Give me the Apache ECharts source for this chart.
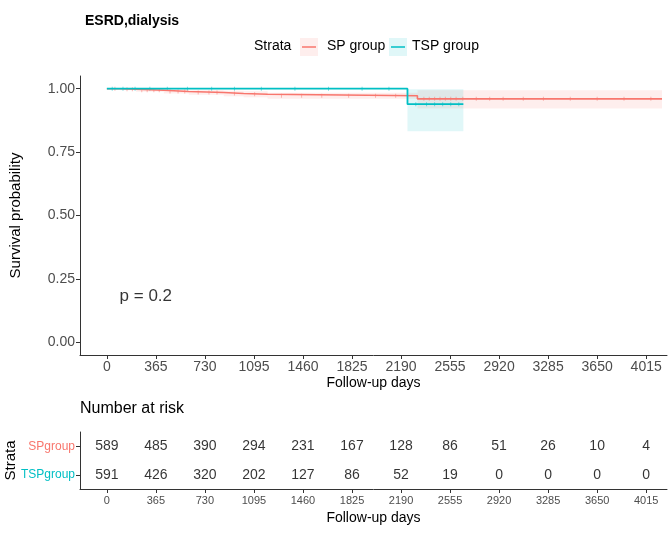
<!DOCTYPE html>
<html>
<head>
<meta charset="utf-8">
<script src="https://cdn.jsdelivr.net/npm/echarts@6/dist/echarts.min.js"></script>
<style>
html,body{margin:0;padding:0;background:#fff;}
#c{width:669px;height:533px;}
</style>
</head>
<body>
<div id="c"></div>
<script>
// ---- data ----
var xTicks = [0, 365, 730, 1095, 1460, 1825, 2190, 2555, 2920, 3285, 3650, 4015];
var yTicks = [0, 0.25, 0.5, 0.75, 1];
var groups = ['SPgroup', 'TSPgroup'];
var legendNames = ['SP group', 'TSP group'];

var spTimes = [0, 100, 216, 424, 610, 870, 1018, 1197, 2312, 4133];
var spSurv  = [1.0, 0.998, 0.994, 0.989, 0.985, 0.981, 0.978, 0.972, 0.960, 0.960];
var spLower = [1.0, 0.994, 0.988, 0.981, 0.976, 0.970, 0.966, 0.960, 0.922, 0.922];
var spUpper = [1.0, 1.0, 1.0, 0.997, 0.994, 0.992, 0.990, 0.984, 0.994, 0.994];

var tspTimes = [0, 2238, 2654];
var tspSurv  = [1.0, 0.939, 0.939];
var tspLower = [1.0, 0.832, 0.832];
var tspUpper = [1.0, 0.998, 0.998];

var spCensor = [60, 150, 190, 260, 300, 350, 390, 470, 530, 580, 680, 760, 820, 950, 1100, 1300, 1450, 1600, 1800, 2000, 2150, 2360, 2400, 2440, 2480, 2520, 2560, 2600, 2650, 2750, 2850, 2950, 3100, 3250, 3450, 3650, 3850, 4050];
var tspCensor = [40, 120, 210, 320, 450, 600, 780, 950, 1150, 1400, 1650, 1900, 2100, 2300, 2380, 2440, 2500, 2560, 2620];

var spRisk  = [589, 485, 390, 294, 231, 167, 128, 86, 51, 26, 10, 4];
var tspRisk = [591, 426, 320, 202, 127, 86, 52, 19, 0, 0, 0, 0];

var pText = 'p = 0.2';
var pPos = [290, 0.18];

// ---- helpers ----
var RED = '#F8766D', TEAL = '#00BFC4';
var FONT = '"Liberation Sans", Arial, sans-serif';
function zip(a, b) { return a.map(function (v, i) { return [v, b[i]]; }); }
function bandData(times, lo, hi) {
  var out = [];
  for (var i = 0; i < times.length - 1; i++) out.push([times[i], times[i + 1], lo[i], hi[i]]);
  return out;
}
function survAt(times, surv, t) {
  var s = surv[0];
  for (var i = 0; i < times.length; i++) { if (times[i] <= t) s = surv[i]; }
  return s;
}
function censorData(c, times, surv) { return c.map(function (t) { return [t, survAt(times, surv, t)]; }); }
function bandRender(fill) {
  return function (params, api) {
    var p1 = api.coord([api.value(0), api.value(3)]);
    var p2 = api.coord([api.value(1), api.value(2)]);
    return {type: 'rect', shape: {x: p1[0], y: p1[1], width: p2[0] - p1[0], height: p2[1] - p1[1]},
      style: {fill: fill}};
  };
}

var XMIN = -200, XMAX = 4170;

var chart = echarts.init(document.getElementById('c'), null, {renderer: 'canvas'});
var axisLineStyle = {color: '#333', width: 1};
var plain = function (v) { return String(v); };

var option = {
  animation: false,
  textStyle: {fontFamily: FONT},
  title: {
    text: 'ESRD,dialysis', left: 80, top: 9,
    textStyle: {fontFamily: FONT, fontSize: 14, fontWeight: 'bold', color: '#000'}
  },
  grid: [
    {left: 80, top: 76, right: 2, height: 279, containLabel: false, outerBoundsMode: 'none'},
    {left: 80, top: 432, right: 2, height: 57, containLabel: false, outerBoundsMode: 'none'}
  ],
  xAxis: [
    {
      type: 'value', gridIndex: 0, min: XMIN, max: XMAX,
      name: 'Follow-up days', nameLocation: 'middle', nameGap: 21, nameMoveOverlap: false,
      nameTextStyle: {fontFamily: FONT, fontSize: 14, color: '#000'},
      axisLine: {show: true, onZero: false, lineStyle: axisLineStyle},
      axisTick: {show: true, length: 4, lineStyle: axisLineStyle, customValues: xTicks},
      axisLabel: {fontFamily: FONT, fontSize: 14, color: '#4D4D4D', margin: 5, customValues: xTicks, formatter: plain},
      splitLine: {show: false}
    },
    {
      type: 'value', gridIndex: 1, min: XMIN, max: XMAX,
      name: 'Follow-up days', nameLocation: 'middle', nameGap: 22, nameMoveOverlap: false,
      nameTextStyle: {fontFamily: FONT, fontSize: 14, color: '#000'},
      axisLine: {show: true, onZero: false, lineStyle: axisLineStyle},
      axisTick: {show: true, length: 4, lineStyle: axisLineStyle, customValues: xTicks},
      axisLabel: {fontFamily: FONT, fontSize: 11, color: '#4D4D4D', margin: 6, customValues: xTicks, formatter: plain},
      splitLine: {show: false}
    }
  ],
  yAxis: [
    {
      type: 'value', gridIndex: 0, min: -0.05, max: 1.05,
      name: 'Survival probability', nameLocation: 'middle', nameGap: 57, nameMoveOverlap: false,
      nameTextStyle: {fontFamily: FONT, fontSize: 15, color: '#000'},
      axisLine: {show: true, onZero: false, lineStyle: axisLineStyle},
      axisTick: {show: true, length: 4, lineStyle: axisLineStyle, customValues: yTicks},
      axisLabel: {fontFamily: FONT, fontSize: 14, color: '#4D4D4D', margin: 5, customValues: yTicks,
        formatter: function (v) { return v.toFixed(2); }},
      splitLine: {show: false}
    },
    {
      type: 'category', gridIndex: 1, data: groups, inverse: true,
      name: 'Strata', nameLocation: 'middle', nameGap: 62, nameMoveOverlap: false,
      nameTextStyle: {fontFamily: FONT, fontSize: 15, color: '#000'},
      axisLine: {show: true, onZero: false, lineStyle: axisLineStyle},
      axisTick: {show: true, length: 4, alignWithLabel: true, lineStyle: axisLineStyle},
      axisLabel: {fontFamily: FONT, fontSize: 12, margin: 5,
        color: function (v) { return v === 'SPgroup' ? RED : TEAL; }},
      splitLine: {show: false}
    }
  ],
  graphic: [
    {type: 'text', left: 80, top: 401, style: {text: 'Number at risk', font: '16px ' + FONT, fill: '#000'}},
    {type: 'text', left: 254, top: 39, style: {text: 'Strata', font: '14px ' + FONT, fill: '#000'}},
    {type: 'rect', shape: {x: 300, y: 38, width: 18, height: 18}, style: {fill: 'rgba(248,118,109,0.12)'}},
    {type: 'line', shape: {x1: 302, y1: 47, x2: 316, y2: 47}, style: {stroke: RED, lineWidth: 1.5}},
    {type: 'text', left: 327, top: 39, style: {text: legendNames[0], font: '14px ' + FONT, fill: '#000'}},
    {type: 'rect', shape: {x: 389, y: 38, width: 18, height: 18}, style: {fill: 'rgba(0,191,196,0.12)'}},
    {type: 'line', shape: {x1: 391, y1: 47, x2: 405, y2: 47}, style: {stroke: TEAL, lineWidth: 1.5}},
    {type: 'text', left: 412, top: 39, style: {text: legendNames[1], font: '14px ' + FONT, fill: '#000'}}
  ],
  series: [
    {type: 'custom', name: 'sp_band', xAxisIndex: 0, yAxisIndex: 0, coordinateSystem: 'cartesian2d',
      data: bandData(spTimes, spLower, spUpper), encode: {x: [0, 1], y: [2, 3]},
      renderItem: bandRender('rgba(248,118,109,0.12)'), silent: true, z: 1},
    {type: 'custom', name: 'tsp_band', xAxisIndex: 0, yAxisIndex: 0, coordinateSystem: 'cartesian2d',
      data: bandData(tspTimes, tspLower, tspUpper), encode: {x: [0, 1], y: [2, 3]},
      renderItem: bandRender('rgba(0,191,196,0.12)'), silent: true, z: 1},
    {type: 'line', name: legendNames[0], xAxisIndex: 0, yAxisIndex: 0, step: 'end',
      data: zip(spTimes, spSurv), symbol: 'none', lineStyle: {color: RED, width: 1.6}, z: 5},
    {type: 'line', name: legendNames[1], xAxisIndex: 0, yAxisIndex: 0, step: 'end',
      data: zip(tspTimes, tspSurv), symbol: 'none', lineStyle: {color: TEAL, width: 1.8}, z: 6},
    {type: 'scatter', name: 'sp_censor', xAxisIndex: 0, yAxisIndex: 0,
      data: censorData(spCensor, spTimes, spSurv), symbol: 'rect', symbolSize: [1, 4],
      itemStyle: {color: RED, opacity: 0.5}, silent: true, z: 4},
    {type: 'scatter', name: 'tsp_censor', xAxisIndex: 0, yAxisIndex: 0,
      data: censorData(tspCensor, tspTimes, tspSurv), symbol: 'rect', symbolSize: [1, 4],
      itemStyle: {color: TEAL, opacity: 0.5}, silent: true, z: 4},
    {type: 'scatter', name: 'pval', xAxisIndex: 0, yAxisIndex: 0, data: [pPos], symbolSize: 0,
      label: {show: true, position: 'inside', formatter: pText, fontFamily: FONT, fontSize: 17, color: '#000'}, silent: true},
    {type: 'scatter', name: 'risk_sp', xAxisIndex: 1, yAxisIndex: 1,
      data: xTicks.map(function (t, i) { return [t, groups[0], spRisk[i]]; }), symbolSize: 0,
      label: {show: true, position: 'inside', formatter: function (p) { return String(p.value[2]); },
        fontFamily: FONT, fontSize: 14, color: '#000'}, silent: true},
    {type: 'scatter', name: 'risk_tsp', xAxisIndex: 1, yAxisIndex: 1,
      data: xTicks.map(function (t, i) { return [t, groups[1], tspRisk[i]]; }), symbolSize: 0,
      label: {show: true, position: 'inside', formatter: function (p) { return String(p.value[2]); },
        fontFamily: FONT, fontSize: 14, color: '#000'}, silent: true}
  ]
};
chart.setOption(option);
</script>
</body>
</html>
